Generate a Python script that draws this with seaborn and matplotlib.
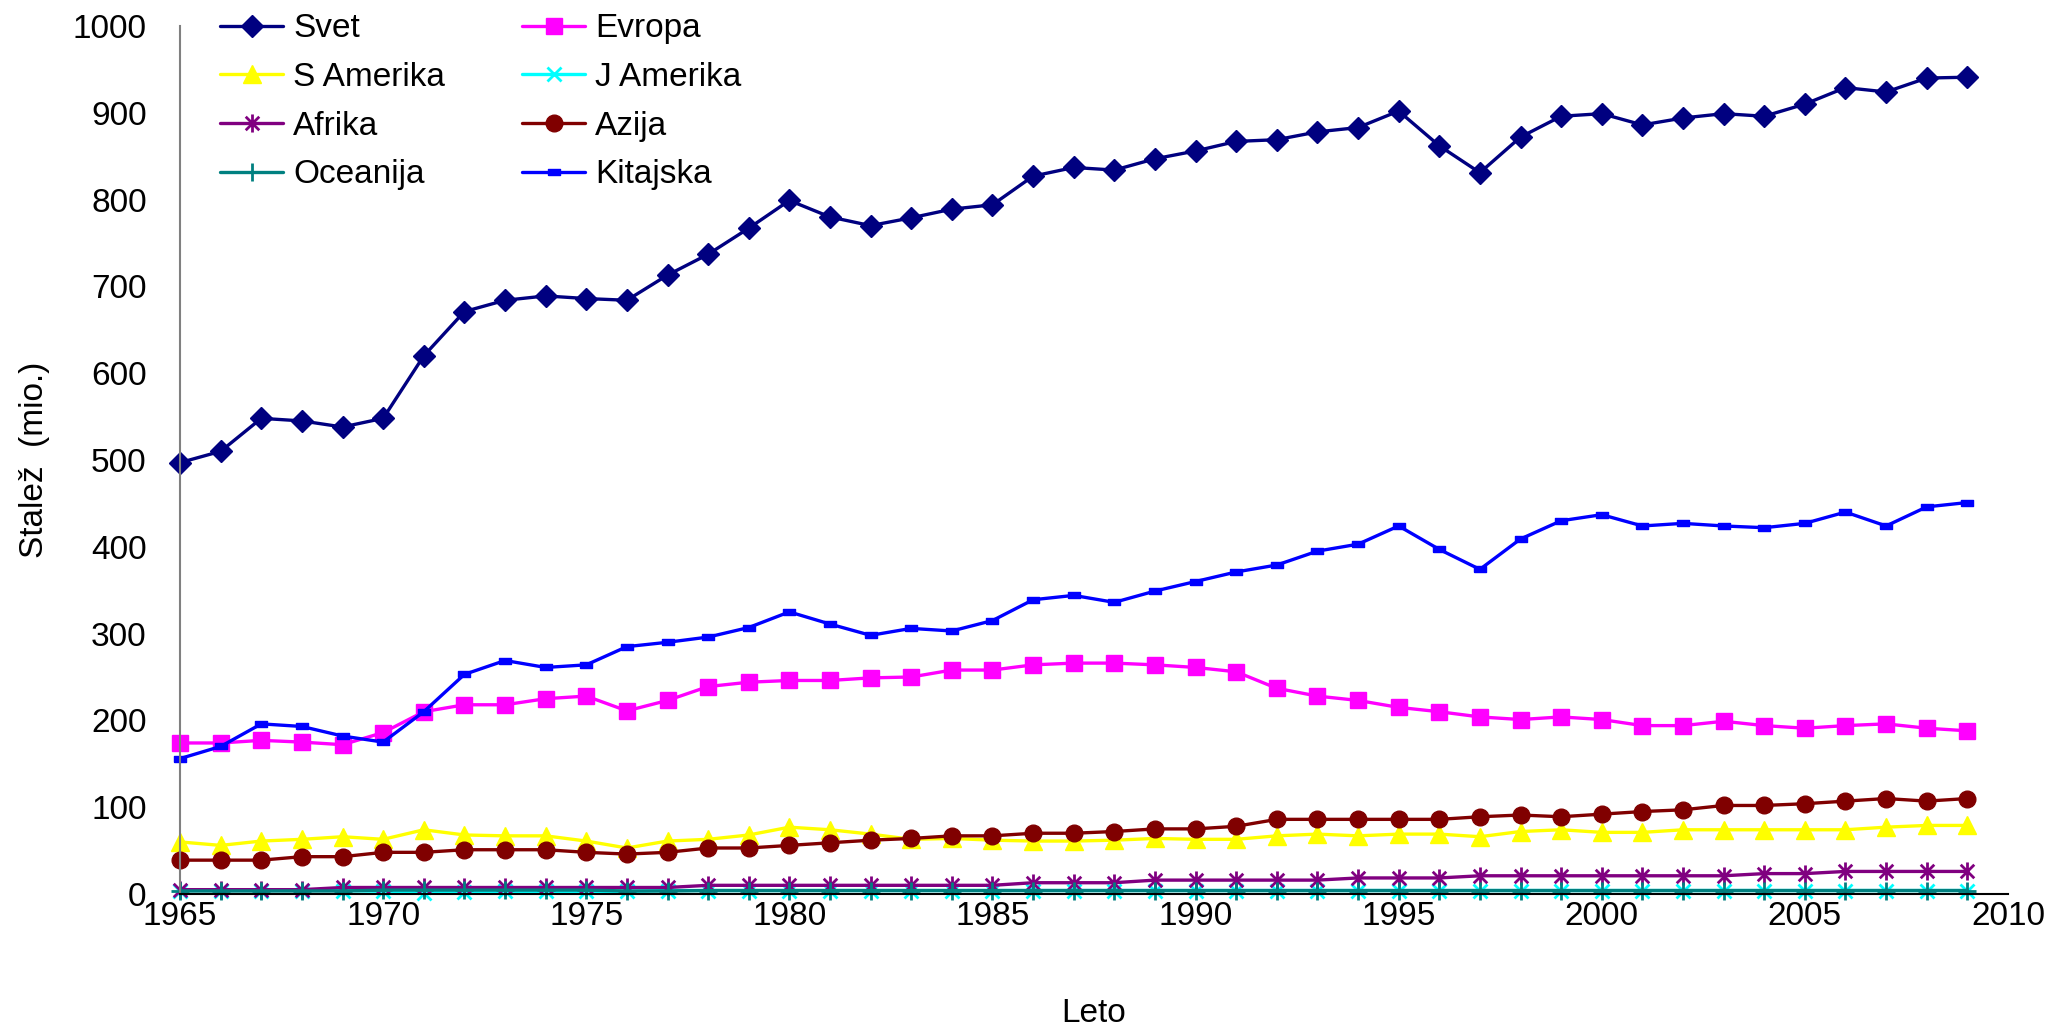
import matplotlib
matplotlib.use("Agg")
import matplotlib.pyplot as plt
from matplotlib.path import Path
import seaborn as sns
import pandas as pd

sns.set_style("white")
plt.rcParams["font.family"] = ["Liberation Sans", "DejaVu Sans"]
plt.rcParams["text.color"] = "black"
plt.rcParams["axes.labelcolor"] = "black"
plt.rcParams["xtick.color"] = "black"
plt.rcParams["ytick.color"] = "black"

years = list(range(1965, 2010))

svet = [497, 510, 548, 545, 538, 548, 620, 671, 684, 689,
        686, 684, 713, 737, 767, 799, 780, 770, 779, 789,
        794, 827, 837, 834, 847, 856, 867, 869, 878, 883,
        902, 862, 831, 872, 896, 899, 886, 894, 899, 896,
        910, 929, 924, 940, 941]
evropa = [174, 174, 177, 175, 172, 186, 210, 218, 218, 225,
          228, 211, 223, 239, 244, 246, 246, 249, 250, 258,
          258, 264, 266, 266, 264, 261, 256, 237, 228, 223,
          215, 210, 204, 201, 204, 201, 194, 194, 199, 194,
          191, 194, 196, 191, 188]
s_amerika = [60, 56, 61, 63, 66, 63, 74, 68, 67, 67,
             61, 53, 61, 63, 68, 77, 74, 69, 63, 64,
             62, 61, 61, 62, 64, 63, 63, 67, 69, 67,
             69, 69, 66, 72, 74, 71, 71, 74, 74, 74,
             74, 74, 77, 79, 79]
j_amerika = [4, 4, 4, 4, 4, 3, 1.5, 2.5, 3, 3,
             3, 3, 4, 4, 4, 4, 4, 4, 4, 4,
             4, 4, 4, 4, 4, 4, 4, 4, 4, 4,
             4, 4, 4, 4, 4, 4, 4, 4, 4, 4,
             4, 4, 4, 4, 4]
afrika = [5, 5, 5, 5, 7.5, 7.5, 7.5, 7.5, 7.5, 7.5,
          7.5, 7.5, 7.5, 10, 10, 10, 10, 10, 10, 10,
          10, 13, 13, 13, 16, 16, 16, 16, 16, 18.5,
          18.5, 18.5, 21, 21, 21, 21, 21, 21, 21, 23.5,
          23.5, 26, 26, 26, 26]
azija = [39, 39, 39, 43, 43, 48, 48, 51, 51, 51,
         48, 46, 48, 53, 53, 56, 59, 62, 64, 67,
         67, 70, 70, 72, 75, 75, 78, 86, 86, 86,
         86, 86, 89, 91, 89, 92, 95, 97, 102, 102,
         104, 107, 110, 107, 110]
oceanija = [3.5, 3.5, 3.5, 3.5, 3.5, 4.5, 4.5, 4.5, 4.5, 4.5,
            4.5, 3.5, 3.5, 4, 4, 4, 4, 4, 4, 4,
            4, 4, 4, 4, 4, 4, 4, 4, 4, 4,
            4, 4, 4, 4, 4, 4, 4, 4, 4, 4,
            4, 4, 4, 4, 4]
kitajska = [156, 170, 196, 193, 182, 175, 210, 253, 269, 261,
            264, 285, 290, 296, 307, 325, 311, 298, 306, 303,
            315, 339, 344, 336, 349, 360, 371, 379, 395, 403,
            424, 397, 374, 409, 430, 437, 424, 427, 424, 422,
            427, 440, 424, 446, 451]

star = Path([(0, -1), (0, 1), (-0.75, -0.75), (0.75, 0.75), (-0.75, 0.75), (0.75, -0.75)],
            [Path.MOVETO, Path.LINETO, Path.MOVETO, Path.LINETO, Path.MOVETO, Path.LINETO])
dash = [(-1, -0.55), (1, -0.55), (1, 0.55), (-1, 0.55), (-1, -0.55)]

# name, values, colour, marker, size, edge width
series = [
    ("Svet", svet, "#000080", "D", 11, 1),
    ("Evropa", evropa, "#FF00FF", "s", 12, 1),
    ("S Amerika", s_amerika, "#FFFF00", "^", 13, 1),
    ("J Amerika", j_amerika, "#00FFFF", "x", 10, 2),
    ("Afrika", afrika, "#800080", star, 13, 2),
    ("Azija", azija, "#800000", "o", 12, 1),
    ("Oceanija", oceanija, "#008080", "+", 13, 2),
    ("Kitajska", kitajska, "#0000FF", dash, 8, 1),
]

fig = plt.figure(figsize=(20.51, 10.27), dpi=100)
ax = fig.add_axes([0.0878, 0.1295, 0.8912, 0.8452])

lines = {}
for name, vals, col, mk, ms, mew in series:
    df = pd.DataFrame({"year": years, "val": vals})
    sns.lineplot(data=df, x="year", y="val", ax=ax, color=col, marker=mk,
                 markersize=ms, markeredgecolor=col, markerfacecolor=col,
                 markeredgewidth=mew, linewidth=2.4, label=name, clip_on=False)
    lines[name] = ax.get_lines()[-1]

ax.set_xlim(1965, 2010)
ax.set_ylim(0, 1000)
ax.set_xticks(range(1965, 2011, 5))
ax.set_xticks([2010], minor=True)
ax.set_yticks(range(0, 1001, 100))
ax.set_yticks(range(50, 1000, 100), minor=True)

for s in ["top", "right"]:
    ax.spines[s].set_visible(False)
ax.spines["left"].set_color("#808080")
ax.spines["left"].set_linewidth(1.5)
ax.spines["bottom"].set_color("black")
ax.spines["bottom"].set_linewidth(1.5)

ax.tick_params(axis="x", which="major", length=0, pad=5, labelsize=24)
ax.tick_params(axis="x", which="minor", direction="in", length=9, width=1.5, color="#404040")
ax.tick_params(axis="y", which="both", direction="in", length=8, width=1.5,
               color="#404040", pad=24, labelsize=24)

ax.set_xlabel("Leto", fontsize=24)
ax.set_ylabel("Stalež  (mio.)", fontsize=24)
ax.xaxis.set_label_coords(0.5, -0.12)
ax.yaxis.set_label_coords(-0.071, 0.5)

order = ["Svet", "S Amerika", "Afrika", "Oceanija", "Evropa", "J Amerika", "Azija", "Kitajska"]
ax.legend([lines[n] for n in order], order, ncol=2, frameon=False, fontsize=24,
          loc="upper left", bbox_to_anchor=(0.1073, 0.987), bbox_transform=fig.transFigure,
          borderpad=0, borderaxespad=0, handlelength=1.9, handletextpad=0.3,
          columnspacing=2.3, labelspacing=0.53)

fig.savefig("out.png", dpi=100)
